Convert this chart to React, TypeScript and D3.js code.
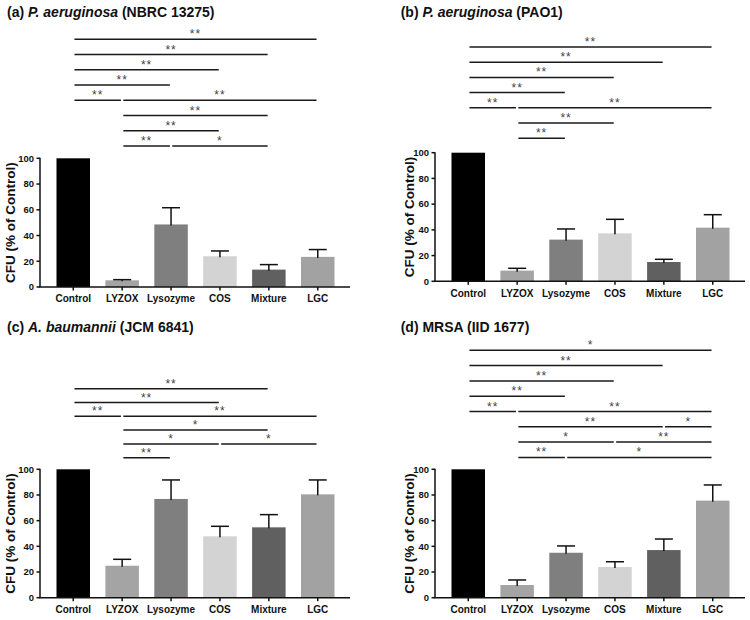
import React from "react";
import * as d3 from "d3";

const categories = ["Control", "LYZOX", "Lysozyme", "COS", "Mixture", "LGC"];
const barColors = ["#000000", "#a4a4a4", "#7f7f7f", "#d3d3d3", "#606060", "#a2a2a2"];
const yTicks = [0, 20, 40, 60, 80, 100];

const meansA = [100, 5.2, 48.6, 23.9, 13.5, 23.4];
const sdA = [0, 0.5, 13.0, 4.1, 3.9, 5.7];
const meansB = [100, 8.3, 32.4, 37.3, 15.0, 41.7];
const sdB = [0, 1.8, 8.3, 10.9, 2.1, 10.1];
const meansC = [100, 24.9, 76.9, 47.8, 54.8, 80.5];
const sdC = [0, 5.0, 14.8, 7.8, 9.9, 11.2];
const meansD = [100, 9.9, 35.0, 23.9, 37.1, 75.6];
const sdD = [0, 3.9, 5.3, 4.1, 8.6, 12.2];

// significance comparisons: [row, fromIndex, toIndex, label]
const sigA: [number, number, number, string][] = [
  [0, 0, 5, "**"], [1, 0, 4, "**"], [2, 0, 3, "**"], [3, 0, 2, "**"],
  [4, 0, 1, "**"], [4, 1, 5, "**"], [5, 1, 4, "**"], [6, 1, 3, "**"],
  [7, 1, 2, "**"], [7, 2, 4, "*"],
];
const sigB: [number, number, number, string][] = [
  [0, 0, 5, "**"], [1, 0, 4, "**"], [2, 0, 3, "**"], [3, 0, 2, "**"],
  [4, 0, 1, "**"], [4, 1, 5, "**"], [5, 1, 3, "**"], [6, 1, 2, "**"],
];
const sigC: [number, number, number, string][] = [
  [0, 0, 4, "**"], [1, 0, 3, "**"], [2, 0, 1, "**"], [2, 1, 5, "**"],
  [3, 1, 4, "*"], [4, 1, 3, "*"], [4, 3, 5, "*"], [5, 1, 2, "**"],
];
const sigD: [number, number, number, string][] = [
  [0, 0, 5, "*"], [1, 0, 4, "**"], [2, 0, 3, "**"], [3, 0, 2, "**"],
  [4, 0, 1, "**"], [4, 1, 5, "**"], [5, 1, 4, "**"], [5, 4, 5, "*"],
  [6, 1, 3, "*"], [6, 3, 5, "**"], [7, 1, 2, "**"], [7, 2, 5, "*"],
];

const titleA = { pre: "(a) ", ital: "P. aeruginosa", post: " (NBRC 13275)" };
const titleB = { pre: "(b) ", ital: "P. aeruginosa", post: " (PAO1)" };
const titleC = { pre: "(c) ", ital: "A. baumannii", post: " (JCM 6841)" };
const titleD = { pre: "(d) MRSA (IID 1677)", ital: "", post: "" };

const FONT = "'Liberation Sans', Arial, Helvetica, sans-serif";

type PanelProps = {
  title: { pre: string; ital: string; post: string };
  means: number[];
  sd: number[];
  sig: [number, number, number, string][];
  axisX: number;
  y0: number;
  y100: number;
  titleX: number;
  titleY: number;
  rowTop: number;
  rowStep: number;
  labelOffset: number;
};

function Panel(p: PanelProps) {
  const x = d3
    .scaleBand<string>()
    .domain(categories)
    .range([p.axisX + 8.8, p.axisX + 8.8 + 6 * 48.9])
    .paddingInner(0.315)
    .paddingOuter(0.1575);
  const y = d3.scaleLinear().domain([0, 100]).range([p.y0, p.y100]);
  const bw = x.bandwidth();
  const cx = (i: number) => (x(categories[i]) as number) + bw / 2;
  const axisEnd = p.axisX + 310;
  const midY = (p.y0 + p.y100) / 2;

  return (
    <g fontFamily={FONT}>
      <text x={p.titleX} y={p.titleY} fontSize={14} fontWeight="bold" fill="#111">
        <tspan>{p.title.pre}</tspan>
        {p.title.ital ? <tspan fontStyle="italic">{p.title.ital}</tspan> : null}
        {p.title.post ? <tspan>{p.title.post}</tspan> : null}
      </text>

      {p.sig.map(([row, a, b, lab], k) => {
        const ly = p.rowTop + row * p.rowStep;
        const x1 = cx(a) + 1.2;
        const x2 = cx(b) - 1.2;
        return (
          <g key={"s" + k}>
            <line x1={x1} x2={x2} y1={ly} y2={ly} stroke="#1a1a1a" strokeWidth={1.5} />
            <text
              x={(x1 + x2) / 2}
              y={ly - 1}
              fontSize={12}
              textAnchor="middle"
              fill="#444"
              letterSpacing={1}
            >
              {lab}
            </text>
          </g>
        );
      })}

      {categories.map((c, i) => (
        <rect
          key={"b" + c}
          x={x(c)}
          y={y(p.means[i])}
          width={bw}
          height={p.y0 - y(p.means[i])}
          fill={barColors[i]}
        />
      ))}

      {categories.map((c, i) =>
        p.sd[i] > 0 ? (
          <g key={"e" + c} stroke="#111" strokeWidth={1.5}>
            <line x1={cx(i)} x2={cx(i)} y1={y(p.means[i]) + 1} y2={y(p.means[i] + p.sd[i])} />
            <line
              x1={cx(i) - 9}
              x2={cx(i) + 9}
              y1={y(p.means[i] + p.sd[i])}
              y2={y(p.means[i] + p.sd[i])}
            />
          </g>
        ) : null
      )}

      {/* y axis */}
      <line x1={p.axisX} x2={p.axisX} y1={p.y0} y2={p.y100 - 0.5} stroke="#111" strokeWidth={1.5} />
      {yTicks.map((t) => (
        <g key={"yt" + t}>
          <line x1={p.axisX - 3.5} x2={p.axisX} y1={y(t)} y2={y(t)} stroke="#111" strokeWidth={1.5} />
          <text
            x={p.axisX - 6}
            y={y(t)}
            dy="0.35em"
            fontSize={9.5}
            fontWeight="bold"
            textAnchor="end"
            fill="#111"
          >
            {t}
          </text>
        </g>
      ))}
      <text
        transform={`translate(${p.axisX - p.labelOffset},${midY}) rotate(-90)`}
        fontSize={13.5}
        fontWeight="bold"
        textAnchor="middle"
        fill="#111"
      >
        CFU (% of Control)
      </text>

      {/* x axis */}
      <line x1={p.axisX - 0.75} x2={axisEnd} y1={p.y0} y2={p.y0} stroke="#111" strokeWidth={1.5} />
      {categories.map((c, i) => (
        <g key={"xt" + c}>
          <line x1={cx(i)} x2={cx(i)} y1={p.y0} y2={p.y0 + 3.5} stroke="#111" strokeWidth={1.5} />
          <text
            x={cx(i)}
            y={p.y0 + 15.4}
            fontSize={10}
            fontWeight="bold"
            textAnchor="middle"
            fill="#111"
          >
            {c}
          </text>
        </g>
      ))}
    </g>
  );
}

export default function App() {
  return (
    <div style={{ position: "fixed", left: 0, top: 0 }}>
      <svg width={750} height={620} style={{ display: "block", background: "#fff" }}>
        <Panel
          title={titleA} means={meansA} sd={sdA} sig={sigA}
          axisX={40} y0={287} y100={158.3} titleX={7} titleY={17}
          rowTop={39.3} rowStep={15.24} labelOffset={25}
        />
        <Panel
          title={titleB} means={meansB} sd={sdB} sig={sigB}
          axisX={435} y0={281.3} y100={152.7} titleX={400.7} titleY={17}
          rowTop={47} rowStep={15.2} labelOffset={21}
        />
        <Panel
          title={titleC} means={meansC} sd={sdC} sig={sigC}
          axisX={40} y0={597.7} y100={469.3} titleX={7} titleY={331.7}
          rowTop={388.7} rowStep={13.8} labelOffset={25}
        />
        <Panel
          title={titleD} means={meansD} sd={sdD} sig={sigD}
          axisX={435} y0={597.7} y100={469.3} titleX={400.7} titleY={332}
          rowTop={350.3} rowStep={15.3} labelOffset={21}
        />
      </svg>
    </div>
  );
}
